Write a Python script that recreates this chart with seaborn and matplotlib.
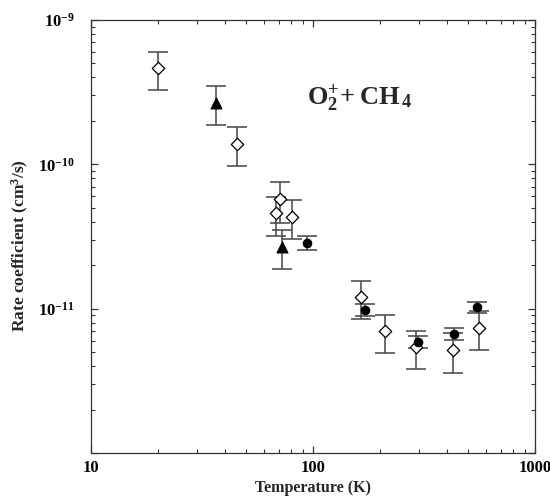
import numpy as np
import pandas as pd
import seaborn as sns
import matplotlib
matplotlib.use("Agg")
import matplotlib.pyplot as plt
from matplotlib.ticker import FuncFormatter, LogLocator, FixedLocator

# ---- data ----
T_diamond = [20.0, 45.5, 68.1, 71.0, 80.8, 164, 211, 291, 428, 561]
k_diamond = [4.67e-10, 1.39e-10, 4.57e-11, 5.74e-11, 4.34e-11, 1.21e-11, 7.05e-12, 5.41e-12, 5.21e-12, 7.4e-12]
hi_diamond = [6.04e-10, 1.80e-10, 5.94e-11, 7.6e-11, 5.65e-11, 1.56e-11, 9.1e-12, 7.0e-12, 6.8e-12, 9.57e-12]
lo_diamond = [3.27e-10, 9.8e-11, 3.2e-11, 3.9e-11, 3.03e-11, 8.43e-12, 4.9e-12, 3.8e-12, 3.6e-12, 5.21e-12]

T_triangle = [36.4, 72.8]
k_triangle = [2.66e-10, 2.69e-11]
hi_triangle = [3.47e-10, 3.5e-11]
lo_triangle = [1.88e-10, 1.89e-11]

T_circle = [94, 171, 298, 430, 546]
k_circle = [2.85e-11, 9.84e-12, 5.92e-12, 6.7e-12, 1.03e-11]
hi_circle = [3.17e-11, 1.08e-11, 6.49e-12, 7.36e-12, 1.12e-11]
lo_circle = [2.56e-11, 8.85e-12, 5.3e-12, 6.05e-12, 9.33e-12]

x_ticks = [10, 100, 1000]
x_tick_labels = ["10", "100", "1000"]
y_ticks = [1e-12, 1e-11, 1e-10, 1e-9]
y_tick_labels = ["", r"$\mathbf{10^{-11}}$", r"$\mathbf{10^{-10}}$", r"$\mathbf{10^{-9}}$"]

title_text = r"$\mathbf{O_2^{+}\!+ CH_{\,4}}$"
x_label = "Temperature (K)"
y_label = r"Rate coefficient (cm$^{\mathbf{3}}$/s)"

# ---- style ----
sns.set_style("ticks")
plt.rcParams["font.family"] = ["Liberation Serif", "DejaVu Serif"]
plt.rcParams["font.weight"] = "bold"
plt.rcParams["mathtext.fontset"] = "custom"
plt.rcParams["mathtext.rm"] = "Liberation Serif:bold"
plt.rcParams["mathtext.bf"] = "Liberation Serif:bold"
plt.rcParams["mathtext.it"] = "Liberation Serif:bold"

fig = plt.figure(figsize=(5.5, 4.96), dpi=100)
ax = fig.add_axes([0.1655, 0.0867, 0.9727 - 0.1655, 0.9597 - 0.0867])

df = pd.concat([
    pd.DataFrame({"T": T_diamond, "k": k_diamond, "hi": hi_diamond, "lo": lo_diamond, "kind": "diamond"}),
    pd.DataFrame({"T": T_triangle, "k": k_triangle, "hi": hi_triangle, "lo": lo_triangle, "kind": "triangle"}),
    pd.DataFrame({"T": T_circle, "k": k_circle, "hi": hi_circle, "lo": lo_circle, "kind": "circle"}),
], ignore_index=True)

ebar_color = "#444444"
ax.errorbar(df["T"], df["k"],
            yerr=[df["k"] - df["lo"], df["hi"] - df["k"]],
            fmt="none", ecolor=ebar_color, elinewidth=1.1, capsize=7, capthick=1.1, zorder=2)

sizes = {"diamond": 40, "triangle": 60, "circle": 36}
for kind, marker, face in [("diamond", "D", "white"), ("triangle", "^", "black"), ("circle", "o", "black")]:
    sub = df[df["kind"] == kind]
    sns.scatterplot(data=sub, x="T", y="k", marker=marker, s=sizes[kind],
                    color=face, edgecolor="black", linewidth=0.9, ax=ax, zorder=3, legend=False)

ax.set_xscale("log")
ax.set_yscale("log")
ax.set_xlim(10, 1000)
ax.set_ylim(1e-12, 1e-9)

ax.xaxis.set_major_locator(FixedLocator(x_ticks))
ax.xaxis.set_major_formatter(FuncFormatter(lambda v, p: dict(zip(x_ticks, x_tick_labels)).get(round(v), "")))
ax.xaxis.set_minor_locator(LogLocator(base=10, subs=np.arange(2, 10), numticks=20))
ax.xaxis.set_minor_formatter(FuncFormatter(lambda v, p: ""))

ax.yaxis.set_major_locator(FixedLocator(y_ticks))
ylab_map = {round(np.log10(t)): l for t, l in zip(y_ticks, y_tick_labels)}
ax.yaxis.set_major_formatter(FuncFormatter(lambda v, p: ylab_map.get(round(np.log10(v)), "")))
ax.yaxis.set_minor_locator(LogLocator(base=10, subs=np.arange(2, 10), numticks=20))
ax.yaxis.set_minor_formatter(FuncFormatter(lambda v, p: ""))

ax.tick_params(which="both", direction="in", top=True, right=True, colors="#333333",
               labelcolor="black", labelsize=12)
ax.tick_params(which="major", length=5, width=0.9)
ax.tick_params(which="minor", length=3, width=0.8)
ax.tick_params(axis="x", pad=5)
ax.tick_params(axis="y", pad=12)
for s in ax.spines.values():
    s.set_visible(True)
    s.set_linewidth(0.9)
    s.set_color("#333333")

ax.set_xlabel(x_label, fontsize=11.5, fontweight="bold", labelpad=3)
ax.set_ylabel(y_label, fontsize=12.5, fontweight="bold")
ax.yaxis.set_label_coords(-0.135, 0.48)

ax.text(0.605, 0.82, title_text, transform=ax.transAxes, fontsize=19, ha="center", va="center")

fig.savefig("out.png", dpi=100)
